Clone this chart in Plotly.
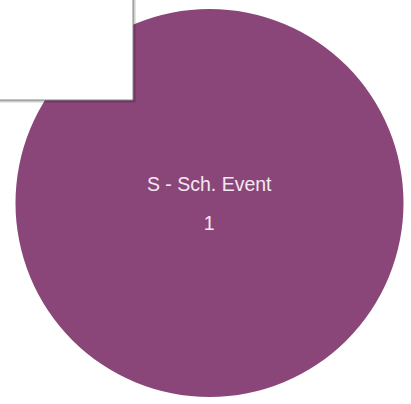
import plotly.graph_objects as go

labels = ["S - Sch. Event"]
values = [1]
colors = ["#8b4679"]

W, H = 411, 404

fig = go.Figure()
fig.add_trace(go.Pie(
    labels=labels,
    values=values,
    marker=dict(colors=colors, line=dict(width=0)),
    texttemplate="<span style='font-size:19.5px'>%{label}</span><br><br><span style='font-size:19.5px'>%{value}</span>",
    textposition="inside",
    insidetextorientation="horizontal",
    textfont=dict(family="Liberation Sans, Arial, sans-serif", size=15, color="#f3e9f0"),
    hoverinfo="label+value",
    sort=False,
    showlegend=False,
    domain=dict(x=[15 / W, 404 / W], y=[1 - 397 / H, 1 - 9 / H]),
))

# overlay box in the top-left corner (with soft shadow)
fig.add_shape(type="rect", xref="paper", yref="paper",
              x0=-0.05, x1=136 / W, y0=1 - 103 / H, y1=1.05,
              fillcolor="rgba(0,0,0,0.10)", line=dict(width=0), layer="above")
fig.add_shape(type="rect", xref="paper", yref="paper",
              x0=-0.05, x1=134.5 / W, y0=1 - 101.5 / H, y1=1.05,
              fillcolor="rgba(0,0,0,0.18)", line=dict(width=0), layer="above")
fig.add_shape(type="rect", xref="paper", yref="paper",
              x0=-0.05, x1=133 / W, y0=1 - 100 / H, y1=1.05,
              fillcolor="white", line=dict(color="#8a8a8a", width=1), layer="above")

fig.update_layout(
    width=W, height=H,
    margin=dict(l=0, r=0, t=0, b=0),
    paper_bgcolor="white",
    plot_bgcolor="white",
)

fig.write_html("out.html", config={"displayModeBar": False},
               post_script="document.body.style.margin='0';document.body.style.padding='0';")
